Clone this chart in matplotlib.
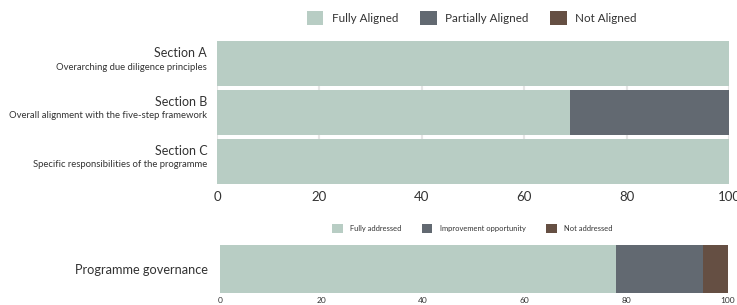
import matplotlib
matplotlib.use("Agg")
import matplotlib.pyplot as plt
from matplotlib.patches import Patch

plt.rcParams['font.family'] = ['Lato', 'DejaVu Sans']

# Top chart data
sections = ["Section A", "Section B", "Section C"]
section_subtitles = ["Overarching due diligence principles",
                     "Overall alignment with the five-step framework",
                     "Specific responsibilities of the programme"]
fully_aligned = [100, 69, 100]
partially_aligned = [0, 31, 0]
not_aligned = [0, 0, 0]
top_legend = ["Fully Aligned", "Partially Aligned", "Not Aligned"]

# Bottom chart data
gov_categories = ["Programme governance"]
fully_addressed = [78]
improvement = [17]
not_addressed = [5]
bottom_legend = ["Fully addressed", "Improvement opportunity", "Not addressed"]

ticks = [0, 20, 40, 60, 80, 100]

c_green = "#b8cdc4"
c_gray = "#626971"
c_brown = "#654f43"
colors = [c_green, c_gray, c_brown]

fig = plt.figure(figsize=(7.37, 3.05), dpi=100)

# ---- Top chart ----
ax = fig.add_axes([0.2944, 0.397, 0.6950, 0.4686])
ypos = list(range(len(sections)))[::-1]
h = 0.92
left = [0] * len(sections)
for vals, col in zip([fully_aligned, partially_aligned, not_aligned], colors):
    ax.barh(ypos, vals, left=left, height=h, color=col, zorder=2)
    left = [l + v for l, v in zip(left, vals)]
ax.set_xlim(0, 100)
ax.set_ylim(-0.46, 2.46)
ax.set_xticks(ticks)
ax.set_xticklabels([str(t) for t in ticks], fontsize=9.5, color="#333333")
ax.set_yticks([])
for s in ax.spines.values():
    s.set_visible(False)
ax.tick_params(axis='x', length=0, pad=5)
ax.grid(axis='x', color='#e6e6e6', linewidth=1.5, zorder=1)
ax.set_axisbelow(True)
for y, title, sub in zip(ypos, sections, section_subtitles):
    ax.text(-0.019, y + 0.1, title, transform=ax.get_yaxis_transform(),
            ha='right', va='bottom', fontsize=9, color="#333333")
    ax.text(-0.019, y + 0.02, sub, transform=ax.get_yaxis_transform(),
            ha='right', va='top', fontsize=6.8, color="#333333")

handles = [Patch(facecolor=c, edgecolor='none') for c in colors]
fig.legend(handles, top_legend, loc='center', bbox_to_anchor=(0.640, 0.94),
           ncol=3, frameon=False, fontsize=8.4, handlelength=1.45, handleheight=1.45,
           columnspacing=1.8, handletextpad=0.75, labelcolor="#333333")

# ---- Bottom chart ----
ax2 = fig.add_axes([0.2985, 0.039, 0.6893, 0.158])
left = [0] * len(gov_categories)
for vals, col in zip([fully_addressed, improvement, not_addressed], colors):
    ax2.barh([0], vals, left=left, height=1.0, color=col, zorder=2)
    left = [l + v for l, v in zip(left, vals)]
ax2.set_xlim(0, 100)
ax2.set_ylim(-0.5, 0.5)
ax2.set_xticks(ticks)
ax2.set_xticklabels([str(t) for t in ticks], fontsize=6, color="#333333")
ax2.set_yticks([0])
ax2.set_yticklabels(gov_categories, fontsize=9.2, color="#333333")
ax2.tick_params(axis='y', length=0, pad=9)
ax2.tick_params(axis='x', length=0, pad=3)
for s in ax2.spines.values():
    s.set_visible(False)

fig.legend(handles, bottom_legend, loc='center', bbox_to_anchor=(0.641, 0.25),
           ncol=3, frameon=False, fontsize=5.4, handlelength=1.4, handleheight=1.4,
           columnspacing=2.7, handletextpad=1.0, labelcolor="#333333")

fig.savefig("out.png", dpi=100)
